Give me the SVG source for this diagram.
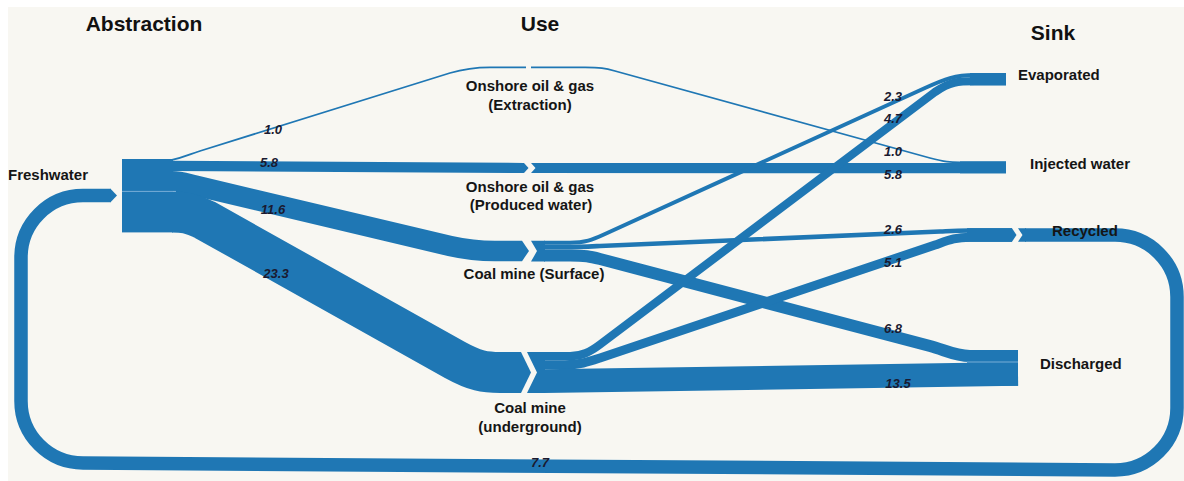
<svg xmlns="http://www.w3.org/2000/svg" width="1184" height="481" viewBox="0 0 1184 481">
<style>
.bg{fill:#f8f7f2}
.lk{fill:none;stroke:#1f77b4;stroke-linecap:butt;stroke-linejoin:round}
.nd{fill:#1f77b4}
.div{stroke:#8fbbe0;stroke-width:0.8}
.hd{font-family:"Liberation Sans",Arial,sans-serif;font-weight:bold;font-size:21px;fill:#111;text-anchor:middle}
.nl{font-family:"Liberation Sans",Arial,sans-serif;font-weight:bold;font-size:15px;fill:#151515}
.c{text-anchor:middle}
.v{font-family:"Liberation Sans",Arial,sans-serif;font-weight:bold;font-style:italic;font-size:13px;fill:#1a1a30;text-anchor:middle}
</style>
<rect width="1184" height="481" fill="#ffffff"/>
<rect class="bg" x="8" y="7" width="1176" height="474"/>

<g id="headers">
<text class="hd" x="144" y="31">Abstraction</text>
<text class="hd" x="540" y="31">Use</text>
<text class="hd" x="1053" y="40">Sink</text>
</g>

<g id="connectors">
<!-- Freshwater to Use -->
<path class="lk" stroke-width="1.8" d="M172 159.9 C185 157 190 154 200 151 L450 73 C465 68.5 475 67.3 490 67.3 L526 67.3"/>
<path class="lk" stroke-width="10.2" d="M172 165.9 L524 168"/>
<polygon class="nd" points="524,162.9 528.5,168 524,173.1"/>
<path class="lk" stroke-width="20.4" d="M172 181.2 C180 181.2 185 183 195 185.5 L450 246 C470 250.5 480 251 495 251 L522 251"/>
<polygon class="nd" points="522,240.8 529,251 522,261.2"/>
<path class="lk" stroke-width="41" d="M172 211.9 C185 211.9 190 213 205 220 L455 360 C475 371 485 372.5 500 372.5 L521 372.5"/>
<polygon class="nd" points="521,352 531,372.5 521,393"/>
<!-- Use to Sink -->
<path class="lk" stroke-width="1.8" d="M531 67.3 L585 67.3 C600 67.3 605 68 615 71 L930 158 C945 162 950 162.3 960 162.3 L1006 162.3"/>
<path class="lk" stroke-width="10.2" d="M544 168 L1006 168.2"/>
<path class="lk" stroke-width="4.05" d="M544 242.8 L570 242.8 C585 242.8 592 240 605 234 L925 88 C945 79 955 75 975 75 L1006 75"/>
<path class="lk" stroke-width="4.58" d="M544 247.1 L565 247.1 C580 247.1 590 246.5 600 246 L940 231.5 C950 231 955 230.5 970 230.5 L1012 230.5"/>
<path class="lk" stroke-width="11.97" d="M544 255.4 L570 255.4 C585 255.4 590 256.5 600 259 L930 346 C945 350 955 356 970 356 L1018 356"/>
<path class="lk" stroke-width="8.27" d="M544 356.1 L570 356.1 C582 356.1 590 352 600 344.5 L935 92 C950 81.5 958 81.2 975 81.2 L1006 81.2"/>
<path class="lk" stroke-width="8.98" d="M544 364.8 L565 364.8 C580 364.8 588 362 600 358 L935 245 C948 240.5 955 237.3 970 237.3 L1012 237.3"/>
<path class="lk" stroke-width="23.76" d="M544 381.2 L1018 373.9"/>
<!-- Recycled loop back to Freshwater -->
<polygon class="nd" points="1018,228.2 1026,228.2 1026,241.8 1018,241.8 1022.5,235"/>
<path class="lk" stroke-width="13.5" d="M1025 235 H1115 A62 62 0 0 1 1177 297 V408 A62 62 0 0 1 1115 470 L83 463 A62 62 0 0 1 21 401 V257.5 A62 62 0 0 1 83 195.5 H111"/>
<polygon class="nd" points="110.5,188.75 117,195.5 110.5,202.25"/>
</g>

<g id="freshwater">
<rect class="nd" x="122" y="159" width="51" height="73.4"/>
<line class="div" x1="122" y1="191.4" x2="176" y2="191.4"/>
<text class="nl" x="8" y="180">Freshwater</text>
</g>

<g id="onshore-extraction">
<text class="nl c" x="530" y="91">Onshore oil &amp; gas</text>
<text class="nl c" x="530" y="110">(Extraction)</text>
</g>

<g id="onshore-produced">
<polygon class="nd" points="531,162.9 545,162.9 545,173.1 531,173.1 535.5,168"/>
<text class="nl c" x="530" y="192">Onshore oil &amp; gas</text>
<text class="nl c" x="531" y="210">(Produced water)</text>
</g>

<g id="coal-surface">
<polygon class="nd" points="531,240.8 545,240.8 545,261.4 531,261.4 537,251.1"/>
<text class="nl c" x="534" y="279">Coal mine (Surface)</text>
</g>

<g id="coal-underground">
<polygon class="nd" points="527,352 545,352 545,393 527,393 537,372.5"/>
<text class="nl c" x="530" y="413">Coal mine</text>
<text class="nl c" x="530" y="432">(underground)</text>
</g>

<g id="evaporated">
<rect class="nd" x="970" y="73" width="36" height="12.4"/>
<text class="nl" x="1018" y="80">Evaporated</text>
</g>

<g id="injected">
<rect class="nd" x="960" y="161.4" width="46" height="11.9"/>
<text class="nl" x="1030" y="169">Injected water</text>
</g>

<g id="recycled">
<rect class="nd" x="967" y="228.2" width="45" height="13.6"/>
<polygon class="nd" points="1012,228.2 1016.5,235 1012,241.8"/>
<text class="nl" x="1052" y="236">Recycled</text>
</g>

<g id="discharged">
<rect class="nd" x="967" y="350" width="51" height="35.8"/>
<line class="div" x1="967" y1="362" x2="1018" y2="362"/>
<text class="nl" x="1040" y="369">Discharged</text>
</g>

<g id="values">
<text class="v" x="273" y="134">1.0</text>
<text class="v" x="269" y="167">5.8</text>
<text class="v" x="273" y="214">11.6</text>
<text class="v" x="276" y="278">23.3</text>
<text class="v" x="893" y="101">2.3</text>
<text class="v" x="893" y="123">4.7</text>
<text class="v" x="893" y="156">1.0</text>
<text class="v" x="893" y="179">5.8</text>
<text class="v" x="893" y="234">2.6</text>
<text class="v" x="893" y="267">5.1</text>
<text class="v" x="893" y="333">6.8</text>
<text class="v" x="898" y="388">13.5</text>
<text class="v" x="540" y="467">7.7</text>
</g>
</svg>
